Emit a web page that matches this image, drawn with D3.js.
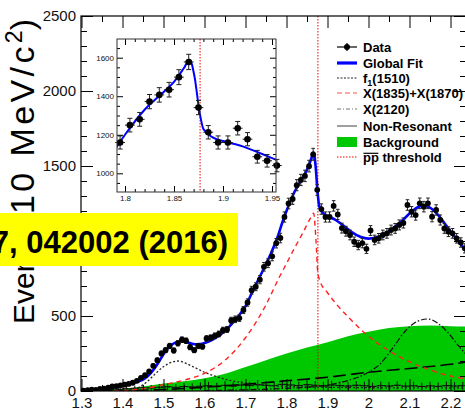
<!DOCTYPE html>
<html>
<head>
<meta charset="utf-8">
<script src="https://cdn.jsdelivr.net/npm/d3@7"></script>
<style>
body { margin: 0; background: #fff; }
svg { display: block; font-family: "Liberation Sans", Arial, sans-serif; }
</style>
</head>
<body>
<script>
// data: 10 MeV bins, bin centres
const dataMass = [1.305,1.315,1.325,1.335,1.345,1.355,1.365,1.375,1.385,1.395,
  1.405,1.415,1.425,1.435,1.445,1.455,1.465,1.475,1.485,1.495,
  1.505,1.515,1.525,1.535,1.545,1.555,1.565,1.575,1.585,1.595,
  1.605,1.615,1.625,1.635,1.645,1.655,1.665,1.675,1.685,1.695,
  1.705,1.715,1.725,1.735,1.745,1.755,1.765,1.775,1.785,1.795,
  1.805,1.815,1.825,1.835,1.845,1.855,1.865,1.875,1.885,1.895,
  1.905,1.915,1.925,1.935,1.945,1.955,1.965,1.975,1.985,1.995,
  2.005,2.015,2.025,2.035,2.045,2.055,2.065,2.075,2.085,2.095,
  2.105,2.115,2.125,2.135,2.145,2.155,2.165,2.175,2.185,2.195,
  2.205,2.215,2.225,2.235];
const dataEvents = [3,6,9,8,14,16,22,30,33,38,
  42,47,55,68,88,105,130,168,205,250,
  272,300,270,318,342,335,292,272,300,296,
  350,355,368,380,405,410,470,478,486,540,
  590,672,695,742,828,852,898,985,1020,1160,
  1250,1280,1372,1407,1434,1499,1578,1341,1213,1160,
  1160,1234,1177,1086,1065,1040,995,973,986,948,
  1070,1007,1018,1040,1051,1073,1084,1107,1120,1240,
  1195,1173,1251,1229,1251,1162,1207,1140,1084,1062,
  1051,1018,990,951];

// global fit
const fitMass = [1.30,1.32,1.34,1.36,1.38,1.40,1.42,1.44,1.45,1.46,1.47,1.48,1.49,1.50,1.51,1.52,1.53,1.54,1.55,1.56,1.57,1.58,1.59,1.60,1.62,1.64,1.66,1.68,1.70,1.72,1.74,1.76,1.78,1.79,1.80,1.82,1.84,1.85,1.86,1.866,1.871,1.876,1.88,1.89,1.90,1.92,1.94,1.96,1.98,2.00,2.02,2.04,2.06,2.08,2.10,2.12,2.135,2.15,2.17,2.19,2.21,2.23,2.245];
const fitEvents = [0,5,10,17,26,38,50,64,76,95,122,158,200,245,282,308,324,331,330,323,315,311,313,320,343,378,428,490,565,680,790,905,1040,1125,1200,1330,1425,1475,1545,1590,1500,1320,1230,1185,1168,1140,1100,1058,1028,1016,1025,1048,1085,1130,1183,1225,1235,1222,1172,1102,1030,962,912];

// f1(1510)
const f1Mass = [1.38,1.42,1.44,1.46,1.48,1.50,1.52,1.535,1.55,1.57,1.60,1.63,1.66,1.70,1.75,1.80,1.90,2.00,2.10,2.245];
const f1Events = [0,8,25,62,115,162,192,200,190,165,125,95,72,52,38,30,25,22,21,20];

// X(1835)+X(1870)
const xMass = [1.38,1.42,1.46,1.50,1.55,1.60,1.65,1.70,1.75,1.78,1.80,1.82,1.84,1.86,1.866,1.872,1.876,1.88,1.90,1.92,1.95,2.00,2.05,2.10,2.15,2.20,2.245];
const xEvents = [0,6,20,42,72,118,205,355,575,745,850,955,1055,1160,1185,1000,800,745,655,585,495,365,268,195,140,100,78];

// X(2120)
const x2120Mass = [1.60,1.70,1.80,1.85,1.90,1.95,2.00,2.03,2.06,2.09,2.12,2.145,2.17,2.20,2.22,2.245];
const x2120Events = [3,8,18,25,40,70,125,185,290,400,465,480,450,370,300,225];

// non-resonant
const nrMass = [1.30,1.40,1.50,1.60,1.70,1.80,1.90,2.00,2.10,2.20,2.245];
const nrEvents = [0,3,10,25,45,68,92,125,150,178,195];

// background
const bkgMass = [1.30,1.35,1.40,1.45,1.50,1.55,1.60,1.65,1.70,1.75,1.80,1.85,1.90,1.95,2.00,2.05,2.10,2.15,2.20,2.245];
const bkgEvents = [0,8,15,30,50,65,85,115,160,205,250,290,325,365,395,420,432,436,432,430];

// small crosses along the bottom
const sbMass = [1.35,1.37,1.39,1.41,1.43,1.45,1.47,1.49,1.51,1.53,1.55,1.57,1.59,1.61,1.63,1.65,1.67,1.69,1.71,1.73,1.75,1.77,1.79,1.81,1.83,1.85,1.87,1.89,1.91,1.93,1.95,1.97,1.99,2.01,2.03,2.05,2.07,2.09,2.11,2.13,2.15,2.17,2.19,2.21,2.23];
const sbEvents = [6,9,12,15,18,22,20,25,28,24,30,27,32,35,30,38,33,40,36,42,38,35,44,40,36,42,38,34,40,36,33,38,35,30,36,33,38,32,35,30,34,31,36,33,35];
const sbErr = [10,12,14,16,18,20,20,22,22,22,24,24,25,26,25,28,26,28,27,30,28,27,30,29,27,30,28,27,29,28,26,28,27,25,27,26,28,26,27,25,27,25,27,26,27];

const thresholdMass = 1.8766;

const xTicks = [1.3,1.4,1.5,1.6,1.7,1.8,1.9,2.0,2.1,2.2];
const xTickLabels = ["1.3","1.4","1.5","1.6","1.7","1.8","1.9","2","2.1","2.2"];
const yTicks = [0,500,1000,1500,2000,2500];
const insetXTicks = [1.8,1.85,1.9,1.95];
const insetXTickLabels = ["1.8","1.85","1.9","1.95"];
const insetYTicks = [1000,1200,1400,1600];

const legendNames = ["Data","Global Fit","f1(1510)","X(1835)+X(1870)","X(2120)","Non-Resonant","Background","pp threshold"];

const W = 465, H = 412;
const L = 81, R = 466, T = 16, B = 391;

const svg = d3.select('body').append('svg')
  .attr('width', W)
  .attr('height', H);

const x = d3.scaleLinear().domain([1.3, 2.2]).range([81.5, 450.5]);
const y = d3.scaleLinear().domain([0, 2500]).range([B, T]);

svg.append('clipPath').attr('id', 'mainClip')
  .append('rect').attr('x', L).attr('y', T).attr('width', R - L).attr('height', B - T);

const plot = svg.append('g').attr('clip-path', 'url(#mainClip)');

const pts = (ms, vs) => ms.map((m, i) => [m, vs[i]]);
const line = (sx, sy) => d3.line().x(d => sx(d[0])).y(d => sy(d[1])).curve(d3.curveMonotoneX);

// background
plot.append('path')
  .datum(pts(bkgMass, bkgEvents))
  .attr('fill', '#00c800')
  .attr('d', d3.area().x(d => x(d[0])).y0(B).y1(d => y(d[1])).curve(d3.curveMonotoneX));

// crosses at the bottom
const sb = plot.append('g').attr('stroke', '#111').attr('stroke-width', 1);
sbMass.forEach((m, i) => {
  sb.append('line').attr('x1', x(m)).attr('x2', x(m))
    .attr('y1', y(sbEvents[i] + sbErr[i])).attr('y2', y(Math.max(0, sbEvents[i] - sbErr[i])));
  sb.append('line').attr('x1', x(m - 0.01)).attr('x2', x(m + 0.01))
    .attr('y1', y(sbEvents[i])).attr('y2', y(sbEvents[i]));
});
plot.append('path').datum(pts(sbMass, sbEvents))
  .attr('fill', 'none').attr('stroke', '#111').attr('stroke-width', 1.2)
  .attr('stroke-dasharray', '1.5,2')
  .attr('d', line(x, y));

// components
plot.append('path').datum(pts(f1Mass, f1Events))
  .attr('fill', 'none').attr('stroke', '#222').attr('stroke-width', 1.3)
  .attr('stroke-dasharray', '2,2')
  .attr('d', line(x, y));
plot.append('path').datum(pts(nrMass, nrEvents))
  .attr('fill', 'none').attr('stroke', '#000').attr('stroke-width', 1.6)
  .attr('stroke-dasharray', '13,5')
  .attr('d', line(x, y));
plot.append('path').datum(pts(x2120Mass, x2120Events))
  .attr('fill', 'none').attr('stroke', '#111').attr('stroke-width', 1.2)
  .attr('stroke-dasharray', '6,2,1.5,2')
  .attr('d', line(x, y));
plot.append('path').datum(pts(xMass, xEvents))
  .attr('fill', 'none').attr('stroke', '#ff2020').attr('stroke-width', 1.4)
  .attr('stroke-dasharray', '5,4')
  .attr('d', line(x, y));

// threshold
plot.append('line')
  .attr('x1', x(thresholdMass)).attr('x2', x(thresholdMass))
  .attr('y1', T).attr('y2', B)
  .attr('stroke', '#e00').attr('stroke-width', 1).attr('stroke-dasharray', '1.5,1.5');

// global fit
plot.append('path').datum(pts(fitMass, fitEvents))
  .attr('fill', 'none').attr('stroke', '#0000ff').attr('stroke-width', 2.6)
  .attr('d', line(x, y));

function drawData(g, sx, sy, ms, vs, r, cap) {
  ms.forEach((m, i) => {
    const v = vs[i], e = Math.sqrt(v);
    const px = sx(m), py = sy(v);
    g.append('line').attr('x1', px).attr('x2', px).attr('y1', sy(v + e)).attr('y2', sy(v - e));
    g.append('line').attr('x1', px - cap).attr('x2', px + cap).attr('y1', sy(v + e)).attr('y2', sy(v + e));
    g.append('line').attr('x1', px - cap).attr('x2', px + cap).attr('y1', sy(v - e)).attr('y2', sy(v - e));
    g.append('line').attr('x1', sx(m - 0.005)).attr('x2', sx(m + 0.005)).attr('y1', py).attr('y2', py);
    g.append('circle').attr('cx', px).attr('cy', py).attr('r', r).attr('fill', '#000').attr('stroke', 'none');
  });
}
drawData(plot.append('g').attr('stroke', '#222').attr('stroke-width', 1), x, y, dataMass, dataEvents, 2.9, 1.8);

// axes
const ax = svg.append('g');
function styleAxis(g) {
  g.select('.domain').remove();
  g.selectAll('.tick line').attr('stroke', '#000');
  g.selectAll('.tick text').attr('fill', '#111').attr('font-size', 15).attr('font-family', '"Liberation Sans", Arial, sans-serif');
}
const xMinor = d3.range(1.35, 2.25, 0.1);
const yMinor = d3.range(100, 2500, 100).filter(v => v % 500 !== 0);

ax.append('g').attr('transform', `translate(0,${B})`)
  .call(d3.axisBottom(x).tickValues(xTicks).tickSize(-12).tickPadding(6)
    .tickFormat((d, i) => xTickLabels[i]))
  .call(styleAxis);
ax.append('g').attr('transform', `translate(0,${B})`)
  .call(d3.axisBottom(x).tickValues(xMinor).tickSize(-6).tickFormat(''))
  .call(styleAxis);
ax.append('g').attr('transform', `translate(0,${T})`)
  .call(d3.axisTop(x).tickValues(xTicks).tickSize(-12).tickFormat(''))
  .call(styleAxis);
ax.append('g').attr('transform', `translate(0,${T})`)
  .call(d3.axisTop(x).tickValues(xMinor).tickSize(-6).tickFormat(''))
  .call(styleAxis);
ax.append('g').attr('transform', `translate(${L},0)`)
  .call(d3.axisLeft(y).tickValues(yTicks).tickSize(-12).tickPadding(5).tickFormat(d3.format('d')))
  .call(styleAxis);
ax.append('g').attr('transform', `translate(${L},0)`)
  .call(d3.axisLeft(y).tickValues(yMinor).tickSize(-6).tickFormat(''))
  .call(styleAxis);
ax.append('g').attr('transform', `translate(${R},0)`)
  .call(d3.axisRight(y).tickValues(yTicks).tickSize(-12).tickFormat(''))
  .call(styleAxis);
ax.append('g').attr('transform', `translate(${R},0)`)
  .call(d3.axisRight(y).tickValues(yMinor).tickSize(-6).tickFormat(''))
  .call(styleAxis);
svg.append('rect').attr('x', L).attr('y', T).attr('width', R - L).attr('height', B - T)
  .attr('fill', 'none').attr('stroke', '#000').attr('stroke-width', 1.2);

// y title (rotated, reads upward)
const yt = svg.append('text')
  .attr('transform', 'translate(34,19) rotate(-90)')
  .attr('text-anchor', 'end')
  .attr('fill', '#000');
yt.append('tspan').attr('font-size', 30).text('Events/(');
yt.append('tspan').attr('font-size', 34).attr('letter-spacing', 3.4).text('10 MeV/c');
yt.append('tspan').attr('dy', -12).attr('font-size', 23).text('2');
yt.append('tspan').attr('dy', 12).attr('font-size', 34).text(')');

// inset
const IL = 117, IR = 276, IT = 39, IB = 192;
const xi = d3.scaleLinear().domain([1.8, 1.95]).range([125, 272]);
const yi = d3.scaleLinear().domain([1000, 1600]).range([173.3, 57.7]);
svg.append('rect').attr('x', IL).attr('y', IT).attr('width', IR - IL).attr('height', IB - IT).attr('fill', '#fff');
svg.append('clipPath').attr('id', 'insetClip')
  .append('rect').attr('x', IL).attr('y', IT).attr('width', IR - IL).attr('height', IB - IT);
const inset = svg.append('g').attr('clip-path', 'url(#insetClip)');
inset.append('line')
  .attr('x1', xi(thresholdMass)).attr('x2', xi(thresholdMass)).attr('y1', IT).attr('y2', IB)
  .attr('stroke', '#e00').attr('stroke-width', 1).attr('stroke-dasharray', '1.5,1.5');
inset.append('path').datum(pts(fitMass, fitEvents).filter(d => d[0] > 1.77 && d[0] < 1.98))
  .attr('fill', 'none').attr('stroke', '#0000ff').attr('stroke-width', 2)
  .attr('d', line(xi, yi));
const insetIdx = dataMass.map((m, i) => i).filter(i => dataMass[i] > 1.79 && dataMass[i] < 1.96);
drawData(svg.append('g').attr('stroke', '#222').attr('stroke-width', 1), xi, yi,
  insetIdx.map(i => dataMass[i]), insetIdx.map(i => dataEvents[i]), 3.3, 2.5);

function styleInset(g) {
  g.select('.domain').remove();
  g.selectAll('.tick line').attr('stroke', '#000');
  g.selectAll('.tick text').attr('fill', '#111').attr('font-size', 8).attr('font-family', '"Liberation Sans", Arial, sans-serif');
}
const xiMinor = d3.range(1.80, 1.955, 0.01);
const yiMinor = d3.range(950, 1700, 50).filter(v => v % 200 !== 0);
svg.append('g').attr('transform', `translate(0,${IB})`)
  .call(d3.axisBottom(xi).tickValues(insetXTicks).tickSize(-6).tickPadding(3).tickFormat((d, i) => insetXTickLabels[i]))
  .call(styleInset);
svg.append('g').attr('transform', `translate(0,${IB})`)
  .call(d3.axisBottom(xi).tickValues(xiMinor).tickSize(-3).tickFormat(''))
  .call(styleInset);
svg.append('g').attr('transform', `translate(0,${IT})`)
  .call(d3.axisTop(xi).tickValues(insetXTicks).tickSize(-6).tickFormat(''))
  .call(styleInset);
svg.append('g').attr('transform', `translate(0,${IT})`)
  .call(d3.axisTop(xi).tickValues(xiMinor).tickSize(-3).tickFormat(''))
  .call(styleInset);
svg.append('g').attr('transform', `translate(${IL},0)`)
  .call(d3.axisLeft(yi).tickValues(insetYTicks).tickSize(-6).tickPadding(3).tickFormat(d3.format('d')))
  .call(styleInset);
svg.append('g').attr('transform', `translate(${IL},0)`)
  .call(d3.axisLeft(yi).tickValues(yiMinor).tickSize(-3).tickFormat(''))
  .call(styleInset);
svg.append('g').attr('transform', `translate(${IR},0)`)
  .call(d3.axisRight(yi).tickValues(insetYTicks).tickSize(-6).tickFormat(''))
  .call(styleInset);
svg.append('g').attr('transform', `translate(${IR},0)`)
  .call(d3.axisRight(yi).tickValues(yiMinor).tickSize(-3).tickFormat(''))
  .call(styleInset);
svg.append('rect').attr('x', IL).attr('y', IT).attr('width', IR - IL).attr('height', IB - IT)
  .attr('fill', 'none').attr('stroke', '#333').attr('stroke-width', 1);

// legend
const lx0 = 337, lx1 = 357, tx = 363;
const legY = [47, 63, 78, 93, 109, 126, 142, 157];
const leg = svg.append('g').attr('font-size', 13).attr('font-weight', 'bold').attr('fill', '#000');
// Data
leg.append('line').attr('x1', lx0).attr('x2', lx1).attr('y1', legY[0]).attr('y2', legY[0]).attr('stroke', '#000').attr('stroke-width', 1.2);
leg.append('line').attr('x1', 347).attr('x2', 347).attr('y1', legY[0] - 4).attr('y2', legY[0] + 4).attr('stroke', '#000').attr('stroke-width', 1.2);
leg.append('circle').attr('cx', 347).attr('cy', legY[0]).attr('r', 3).attr('fill', '#000');
leg.append('line').attr('x1', lx0).attr('x2', lx1).attr('y1', legY[1]).attr('y2', legY[1]).attr('stroke', '#0000ff').attr('stroke-width', 3.2);
leg.append('line').attr('x1', lx0).attr('x2', lx1).attr('y1', legY[2]).attr('y2', legY[2]).attr('stroke', '#222').attr('stroke-width', 1).attr('stroke-dasharray', '2,1.5');
leg.append('line').attr('x1', lx0).attr('x2', lx1).attr('y1', legY[3]).attr('y2', legY[3]).attr('stroke', '#ff5050').attr('stroke-width', 1.2).attr('stroke-dasharray', '5,3');
leg.append('line').attr('x1', lx0).attr('x2', lx1).attr('y1', legY[4]).attr('y2', legY[4]).attr('stroke', '#777').attr('stroke-width', 1.2).attr('stroke-dasharray', '4,2,1,2');
leg.append('line').attr('x1', lx0).attr('x2', lx1).attr('y1', legY[5]).attr('y2', legY[5]).attr('stroke', '#777').attr('stroke-width', 1.4);
leg.append('rect').attr('x', lx0).attr('y', legY[6] - 5).attr('width', lx1 - lx0).attr('height', 10).attr('fill', '#00c800');
leg.append('line').attr('x1', lx0).attr('x2', lx1).attr('y1', legY[7]).attr('y2', legY[7]).attr('stroke', '#e00').attr('stroke-width', 1).attr('stroke-dasharray', '1.5,1.5');

legendNames.forEach((name, i) => {
  const t = leg.append('text').attr('x', tx).attr('y', legY[i] + 4.5);
  if (i === 2) {
    t.append('tspan').text('f');
    t.append('tspan').attr('dy', 3).attr('font-size', 9).text('1');
    t.append('tspan').attr('dy', -3).text('(1510)');
  } else if (i === 7) {
    t.text(name);
    const w = t.node().getSubStringLength(0, 2);
    leg.append('line').attr('x1', tx + 0.5).attr('x2', tx + w - 0.5)
      .attr('y1', legY[i] - 3.7).attr('y2', legY[i] - 3.7).attr('stroke', '#000').attr('stroke-width', 1.2);
  } else {
    t.text(name);
  }
});

// banner
svg.append('rect').attr('x', 0).attr('y', 213).attr('width', 238).attr('height', 53).attr('fill', '#ffff00');
svg.append('text').attr('x', 228).attr('y', 253)
  .attr('text-anchor', 'end').attr('font-size', 31).attr('font-weight', 'bold').attr('fill', '#000')
  .text('Phys. Rev. Lett. 117, 042002 (2016)');
</script>
</body>
</html>
